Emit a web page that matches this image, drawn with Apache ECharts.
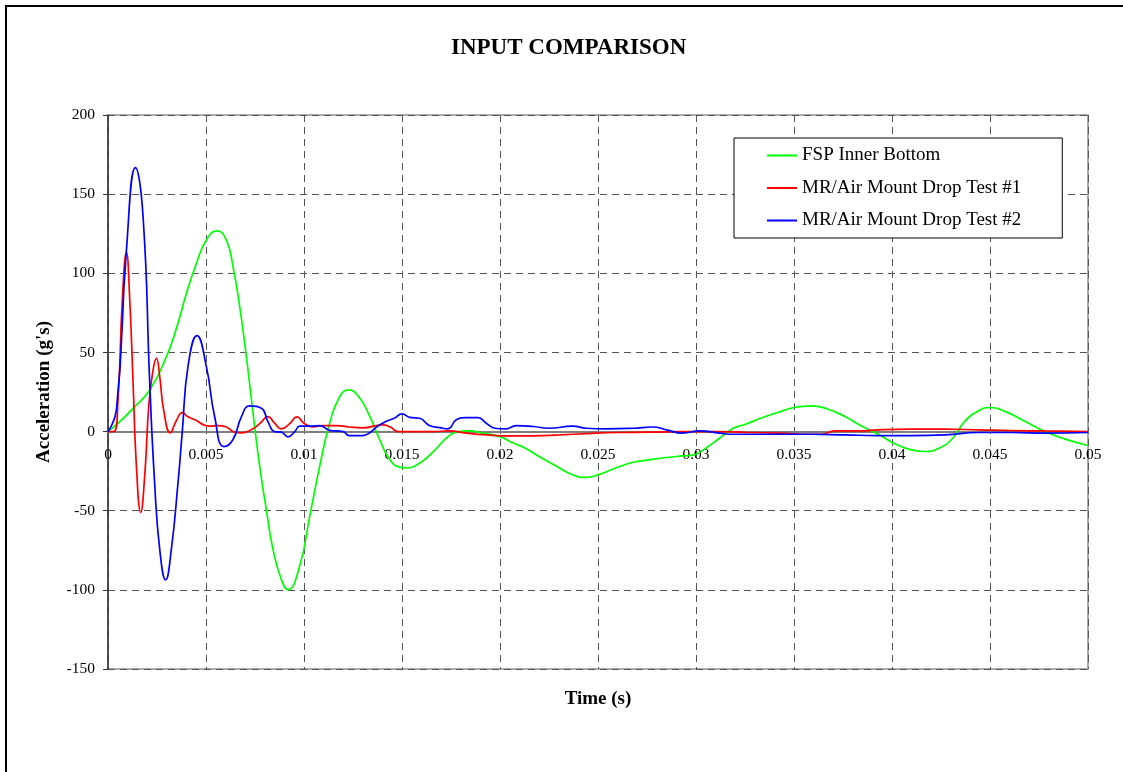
<!DOCTYPE html>
<html>
<head>
<meta charset="utf-8">
<script src="https://cdn.jsdelivr.net/npm/echarts@6/dist/echarts.min.js"></script>
<style>
html,body{margin:0;padding:0;background:#fff;}
#chart{width:1123px;height:772px;}
</style>
</head>
<body>
<div id="chart"></div>
<script>
// ---- data (time in ms, acceleration in g's) ----
const chartTitle = 'INPUT COMPARISON';
const xName = 'Time (s)';
const yName = "Acceleration (g's)";
const seriesNames = ['FSP Inner Bottom', 'MR/Air Mount Drop Test #1', 'MR/Air Mount Drop Test #2'];

const fspTimeMs = [0,0.6,1.28,2.13,2.98,3.49,4.0,4.51,5.02,5.56,6.04,6.38,6.72,7.06,7.4,7.74,8.08,8.42,8.85,9.18,9.78,10.29,10.8,11.31,11.82,12.28,12.84,13.35,13.86,14.37,14.88,15.2,15.9,16.6,17.26,17.77,18.45,19.13,19.99,20.7,21.3,22.0,22.9,23.7,24.4,25.1,25.9,26.8,27.6,28.5,29.3,29.9,30.5,31.2,31.9,32.5,33.3,34.2,35.0,35.9,36.7,37.6,38.4,39.3,40.1,41.0,41.7,42.4,43.1,43.7,44.4,45.0,45.8,46.8,47.8,48.8,50.0];
const fspAccel  = [0,6.3,14.7,26.3,47.3,65.2,87.3,106.2,121,126.8,121,104,78.9,47.3,11.6,-22,-49.4,-74.6,-93.6,-99.8,-85,-53.6,-22,5.3,22,26.3,21.2,9.7,-5,-17.7,-22.5,-23,-20,-12.6,-4.2,-0.4,0.4,-1,-3.2,-7.4,-10.5,-15.8,-22,-27.3,-29,-26.9,-23,-19.4,-17.9,-16.4,-15.4,-14.7,-10.5,-4.2,2.1,4.5,8.4,12.2,15.2,16.2,14.3,9.5,3.8,-1.7,-7.4,-11.6,-12.6,-10.5,-4.2,6.3,13,15.2,12.6,6.3,0,-4.6,-8.8];

const test1TimeMs = [0,0.29,0.51,0.73,0.94,1.11,1.28,1.45,1.67,1.87,2.09,2.3,2.47,2.64,2.84,3.18,3.49,3.79,4.08,4.51,4.85,5.19,5.61,6.04,6.46,6.81,7.32,7.74,8.16,8.5,8.85,9.27,9.64,10.0,10.46,10.97,11.65,12.3,13.0,14.0,14.4,14.8,15.3,16.6,17.4,18.3,19.3,20.5,21.7,23.05,24.4,25.9,27.6,29.3,31.0,32.5,34.2,35.9,36.4,37.1,38.4,39.3,41.0,42.7,44.4,46.1,47.8,50.0];
const test1Accel  = [0,0,20,83,113,83,30.5,-22,-51,-28.5,17.9,39,46.3,34.7,13.7,-0.8,7,12,9.3,7,4.4,3.4,3.8,2.9,-0.4,-0.8,1.3,5,9.5,5.3,1.7,5,9.3,5.3,2.9,3.8,3.8,2.9,2.3,4.2,2.9,0,0,0,0.4,-1,-2.1,-2.7,-2.7,-2.1,-1.3,-0.6,-0.4,0,0,-0.5,-1,-1.7,-1.7,0.4,0.4,1.1,1.5,1.5,1.1,0.6,0.4,0];

const test2TimeMs = [0,0.43,0.94,1.4,1.79,2.13,2.38,2.64,2.94,3.23,3.57,3.79,4.08,4.54,5.02,5.44,5.92,6.38,6.81,7.23,7.83,8.16,8.5,8.85,9.18,9.53,9.78,10.29,10.8,11.3,12.0,12.3,13.0,13.35,13.7,14.2,14.6,15.0,15.39,15.9,16.4,16.92,17.34,17.77,18.28,18.88,19.3,19.73,20.3,20.83,21.7,22.5,23.7,24.4,25.4,26.8,27.8,28.5,29.3,30.2,31.2,31.9,32.7,34.2,35.9,37.6,39.3,41.0,42.7,44.4,46.1,47.8,50.0];
const test2Accel  = [0,13.7,114.6,166.8,135.6,30.5,-32.6,-74.6,-93.6,-74.6,-32.6,0,41,60.6,41,9.5,-9.5,-5,9.5,16.2,14.7,6.3,0,-0.4,-3.4,0,3.4,3.4,3.8,0.8,0,-2.5,-2.5,-0.8,2.9,6.5,8.4,11.2,9,8.4,3.8,2.5,1.7,7.4,8.8,8.8,5.3,2.1,1.7,3.8,3.2,2.1,3.4,2.1,1.7,2.1,2.9,1.1,-1,0.4,-1,-1.7,-1.7,-1.7,-1.7,-2.1,-2.5,-2.5,-2.1,-0.6,-0.6,-1,-0.6];

const xMin = 0, xMax = 0.05, xStep = 0.005;
const yMin = -150, yMax = 200, yStep = 50;
const seriesColors = ['#00ff00', '#ff0000', '#0000ff'];

function pairs(tms, v) { return tms.map((t, i) => [t / 1000, v[i]]); }

const gridTop = 115, gridBottom = 103, chartH = 772;
const plotH = chartH - gridTop - gridBottom;
// offset that moves the x axis (with its labels) up to the y = 0 line
const zeroOffset = -plotH * (0 - yMin) / (yMax - yMin);

const chart = echarts.init(document.getElementById('chart'), null, {renderer: 'canvas'});
const serif = '"Liberation Serif", "Times New Roman", serif';
const gridDash = [7, 5];

chart.setOption({
  animation: false,
  backgroundColor: '#ffffff',
  textStyle: {fontFamily: serif, color: '#000'},
  title: {
    text: chartTitle,
    left: 451, top: 37,
    padding: 0,
    textStyle: {fontFamily: serif, fontSize: 23, fontWeight: 'bold', color: '#000'}
  },
  graphic: [{
    type: 'rect', z: -1, silent: true,
    shape: {x: 6, y: 6, width: 1140, height: 800},
    style: {fill: 'none', stroke: '#000', lineWidth: 2}
  }],
  legend: {
    orient: 'vertical',
    left: 734, top: 138,
    padding: [8, 41, 8, 33],
    icon: 'rect',
    itemWidth: 30, itemHeight: 2, itemGap: 13.5,
    backgroundColor: '#fff',
    borderColor: '#000', borderWidth: 1,
    textStyle: {fontFamily: serif, fontSize: 19, color: '#000', lineHeight: 19},
    data: seriesNames
  },
  grid: {left: 108, right: 35, top: gridTop, bottom: gridBottom, containLabel: false, outerBoundsMode: 'none',
         show: true, borderColor: '#909090', borderWidth: 1.5, backgroundColor: 'transparent'},
  xAxis: {
    type: 'value', min: xMin, max: xMax, interval: xStep,
    position: 'bottom', offset: zeroOffset,
    name: xName, nameLocation: 'middle', nameGap: 258,
    nameTextStyle: {fontFamily: serif, fontSize: 19, fontWeight: 'bold', color: '#000'},
    axisLine: {show: true, onZero: false, lineStyle: {color: '#808080', width: 1.8}},
    axisTick: {show: false},
    axisLabel: {
      margin: 15, fontFamily: serif, fontSize: 15.5, color: '#000',
      formatter: v => String(+v.toFixed(3))
    },
    splitLine: {show: true, lineStyle: {color: '#555', type: gridDash, width: 1}}
  },
  yAxis: {
    type: 'value', min: yMin, max: yMax, interval: yStep,
    name: yName, nameLocation: 'middle', nameGap: 54, nameRotate: 90,
    nameTextStyle: {fontFamily: serif, fontSize: 19, fontWeight: 'bold', color: '#000'},
    axisLine: {show: true, onZero: false, lineStyle: {color: '#333', width: 1.5}},
    axisTick: {show: true, length: 5, inside: false, lineStyle: {color: '#333'}},
    axisLabel: {margin: 13, fontFamily: serif, fontSize: 15.5, color: '#000'},
    splitLine: {show: true, lineStyle: {color: '#555', type: gridDash, width: 1}}
  },
  series: [
    {name: seriesNames[0], type: 'line', data: pairs(fspTimeMs, fspAccel), symbol: 'none', smooth: 0.5,
     lineStyle: {color: seriesColors[0], width: 1.7}, itemStyle: {color: seriesColors[0]}, z: 3},
    {name: seriesNames[1], type: 'line', data: pairs(test1TimeMs, test1Accel), symbol: 'none', smooth: 0.5,
     lineStyle: {color: seriesColors[1], width: 1.7}, itemStyle: {color: seriesColors[1]}, z: 4},
    {name: seriesNames[2], type: 'line', data: pairs(test2TimeMs, test2Accel), symbol: 'none', smooth: 0.5,
     lineStyle: {color: seriesColors[2], width: 1.7}, itemStyle: {color: seriesColors[2]}, z: 5}
  ]
});
</script>
</body>
</html>
